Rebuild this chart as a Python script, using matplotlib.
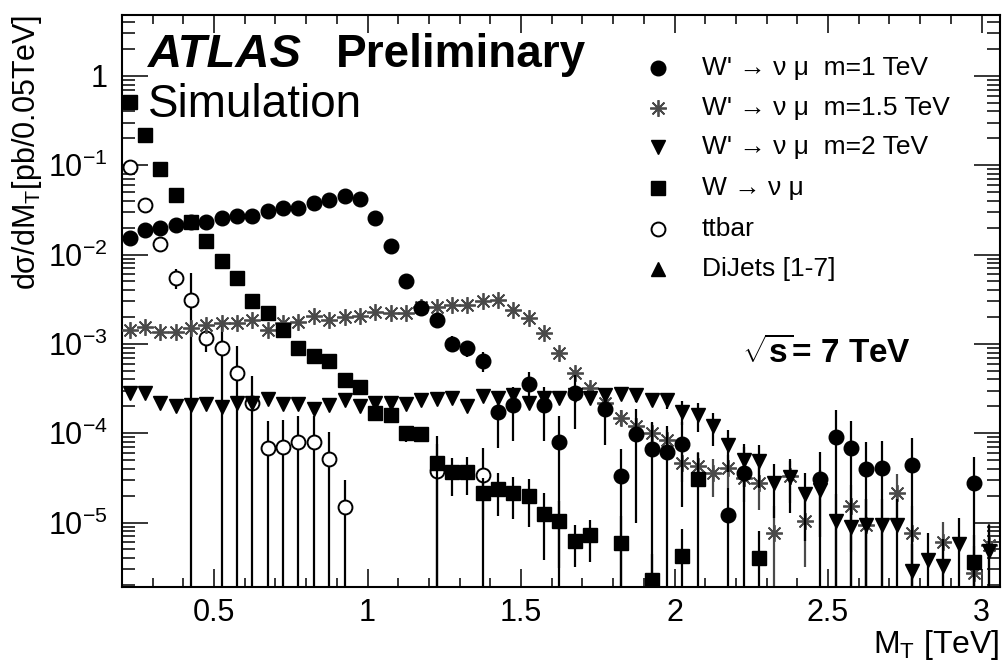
import numpy as np
import matplotlib.pyplot as plt

plt.rcParams['font.family'] = ['Liberation Sans', 'DejaVu Sans']
plt.rcParams['mathtext.fontset'] = 'custom'
plt.rcParams['mathtext.rm'] = 'Liberation Sans'
plt.rcParams['mathtext.it'] = 'Liberation Sans:italic'
plt.rcParams['mathtext.bf'] = 'Liberation Sans:bold'

nan = np.nan

# 50 GeV bins, centres from 0.225 to 3.025 TeV
mt = np.round(np.arange(0.225, 3.05, 0.05), 3)

# W' -> mu nu, m = 1 TeV
wp1 = [0.0152, 0.0187, 0.0196, 0.0212, 0.0229, 0.0229, 0.0254, 0.0268, 0.0268, 0.0305,
       0.0329, 0.0329, 0.0374, 0.0404, 0.0449, 0.0415, 0.0254, 0.0124, 0.0051, 0.00255,
       0.00183, 0.00101, 0.00089, 0.00065, 1.71e-4, 2.05e-4, 3.6e-4, 2.05e-4, 7.9e-5, 2.79e-4,
       nan, 1.85e-4, 3.3e-5, 9.9e-5, 6.6e-5, 6.1e-5, 7.5e-5, nan, nan, 1.23e-5,
       3.55e-5, nan, nan, nan, nan, 3.1e-5, 9.0e-5, 6.9e-5, 4.0e-5, 4.1e-5,
       nan, 4.45e-5, nan, nan, nan, 2.74e-5, nan]
wp1_rel = [0.03, 0.03, 0.03, 0.03, 0.03, 0.03, 0.03, 0.03, 0.03, 0.03,
           0.03, 0.03, 0.03, 0.03, 0.03, 0.03, 0.04, 0.05, 0.08, 0.1,
           0.12, 0.2, 0.2, 0.25, 0.6, 0.6, 0.35, 0.6, 1.0, 0.6,
           nan, 0.6, 1.0, 0.9, 1.0, 1.0, 0.8, nan, nan, 1.0,
           1.0, nan, nan, nan, nan, 1.0, 1.0, 1.0, 1.0, 1.0,
           nan, 1.0, nan, nan, nan, 1.0, nan]

# W' -> mu nu, m = 1.5 TeV
wp15 = [1.42e-3, 1.53e-3, 1.35e-3, 1.35e-3, 1.49e-3, 1.61e-3, 1.70e-3, 1.70e-3, 1.83e-3, 1.42e-3,
        1.70e-3, 1.74e-3, 2.03e-3, 1.83e-3, 1.98e-3, 2.03e-3, 2.25e-3, 2.20e-3, 2.20e-3, 2.57e-3,
        2.60e-3, 2.70e-3, 2.70e-3, 2.99e-3, 3.07e-3, 2.37e-3, 1.93e-3, 1.31e-3, 8.0e-4, 4.68e-4,
        3.18e-4, 2.2e-4, 1.5e-4, 1.2e-4, 1.0e-4, 8.3e-5, 4.7e-5, 4.35e-5, 3.55e-5, 4.1e-5,
        3.12e-5, 2.8e-5, 7.7e-6, 3.3e-5, 1.05e-5, nan, nan, 1.55e-5, 9.3e-6, nan,
        2.17e-5, 7.7e-6, nan, 6.0e-6, nan, 2.7e-6, 5.6e-6]
wp15_rel = [0.04, 0.04, 0.04, 0.04, 0.04, 0.04, 0.04, 0.04, 0.04, 0.04,
            0.04, 0.04, 0.04, 0.04, 0.04, 0.04, 0.04, 0.04, 0.04, 0.04,
            0.04, 0.04, 0.04, 0.04, 0.04, 0.04, 0.05, 0.05, 0.08, 0.1,
            0.12, 0.15, 0.2, 0.25, 0.3, 0.3, 0.4, 0.4, 0.45, 0.4,
            0.45, 0.5, 1.0, 0.5, 0.7, nan, nan, 0.7, 1.0, nan,
            0.6, 1.0, nan, 0.7, nan, 1.0, 0.7]

# W' -> mu nu, m = 2 TeV
wp2 = [2.79e-4, 2.85e-4, 2.2e-4, 2.0e-4, 2.05e-4, 2.15e-4, 1.95e-4, 2.2e-4, 2.2e-4, 2.4e-4,
       2.15e-4, 2.1e-4, 1.85e-4, 2.05e-4, 2.35e-4, 2.0e-4, 2.2e-4, 2.2e-4, 2.15e-4, 2.35e-4,
       2.4e-4, 2.45e-4, 2.0e-4, 2.6e-4, 2.5e-4, 2.7e-4, 2.2e-4, 2.45e-4, 2.45e-4, 2.7e-4,
       2.45e-4, 2.7e-4, 2.75e-4, 2.65e-4, 2.35e-4, 2.35e-4, 1.75e-4, 1.6e-4, 1.2e-4, 7.3e-5,
       5.0e-5, 4.9e-5, 2.8e-5, 3.2e-5, 2.1e-5, 2.3e-5, 1.05e-5, 9.0e-6, 9.3e-6, 9.3e-6,
       9.3e-6, 2.9e-6, 3.8e-6, 3.3e-6, 5.7e-6, nan, 4.75e-6]
wp2_rel = [0.05, 0.05, 0.05, 0.05, 0.05, 0.05, 0.05, 0.05, 0.05, 0.05,
           0.05, 0.05, 0.05, 0.05, 0.05, 0.05, 0.05, 0.05, 0.05, 0.05,
           0.06, 0.06, 0.08, 0.08, 0.08, 0.08, 0.08, 0.1, 0.1, 0.1,
           0.1, 0.12, 0.15, 0.15, 0.15, 0.2, 0.3, 0.35, 0.4, 0.5,
           0.5, 0.5, 0.6, 0.6, 0.7, 0.7, 1.0, 1.0, 1.0, 1.0,
           1.0, 1.0, 1.0, 1.0, 1.0, nan, 1.0]

# W -> mu nu
w_sm = [0.506, 0.216, 0.090, 0.046, 0.0234, 0.0141, 0.0084, 0.0054, 0.0030, 0.0022,
        1.45e-3, 8.9e-4, 7.4e-4, 6.4e-4, 3.9e-4, 3.3e-4, 1.67e-4, 1.62e-4, 9.95e-5, 9.9e-5,
        4.7e-5, 3.64e-5, 3.7e-5, 2.12e-5, 2.4e-5, 2.17e-5, 1.96e-5, 1.26e-5, 1.03e-5, 6.3e-6,
        7.2e-6, nan, 5.97e-6, nan, 2.25e-6, nan, 4.2e-6, 3.04e-5, nan, nan,
        nan, 4.0e-6, nan, nan, nan, nan, nan, nan, nan, nan,
        nan, nan, nan, nan, nan, 3.66e-6, nan]
w_sm_rel = [0.01, 0.01, 0.01, 0.02, 0.02, 0.03, 0.03, 0.04, 0.05, 0.06,
            0.08, 0.1, 0.1, 0.12, 0.12, 0.12, 0.15, 0.15, 0.2, 0.2,
            1.0, 0.45, 0.45, 0.5, 0.5, 0.5, 0.55, 0.7, 0.7, 0.5,
            0.5, nan, 1.0, nan, 1.0, nan, 1.0, 1.0, nan, nan,
            nan, 1.0, nan, nan, nan, nan, nan, nan, nan, nan,
            nan, nan, nan, nan, nan, 1.0, nan]

# ttbar
ttbar = [0.095, 0.0355, 0.0133, 0.0055, 0.0031, 1.15e-3, 9.1e-4, 4.7e-4, 2.16e-4, 6.8e-5,
         7.0e-5, 7.9e-5, 7.9e-5, 5.1e-5, 1.48e-5, nan, nan, nan, nan, nan,
         3.8e-5, nan, nan, 3.45e-5] + [nan] * 33
ttbar_rel = [0.05, 0.1, 0.15, 0.25, 1.0, 0.3, 1.0, 1.0, 1.0, 1.0,
             1.0, 1.0, 1.0, 1.0, 1.0, nan, nan, nan, nan, nan,
             1.0, nan, nan, 1.0] + [nan] * 33

# dijets [1-7]: no entries in this range
dijets = [nan] * 57
dijets_rel = [nan] * 57

labels = ["W' \u2192 \u03bd \u03bc  m=1 TeV", "W' \u2192 \u03bd \u03bc  m=1.5 TeV",
          "W' \u2192 \u03bd \u03bc  m=2 TeV", "W \u2192 \u03bd \u03bc", "ttbar", "DiJets [1-7]"]

YMIN, YMAX = 1.9e-6, 4.8
XMIN, XMAX = 0.2, 3.06

fig = plt.figure(figsize=(10.07, 6.63), dpi=100)
ax = fig.add_axes([0.1211, 0.1146, 0.8719, 0.8627])
ax.set_yscale('log')
ax.set_xlim(XMIN, XMAX)
ax.set_ylim(YMIN, YMAX)

styles = [
    (wp1, wp1_rel, dict(marker='o', color='black', ms=10.5), 4),
    (wp15, wp15_rel, dict(marker=(8, 2, 0), color='#4a4a4a', ms=12, mew=1.3), 3),
    (wp2, wp2_rel, dict(marker='v', color='black', ms=9.5), 5),
    (w_sm, w_sm_rel, dict(marker='s', color='black', ms=10), 6),
    (ttbar, ttbar_rel, dict(marker='o', color='black', mfc='white', ms=10, mew=1.4), 2),
    (dijets, dijets_rel, dict(marker='^', color='black', ms=9.5), 2),
]

handles = []
for vals, rel, kw, z in styles:
    v = np.array(vals)
    r = np.array(rel)
    ok = ~np.isnan(v)
    err = v[ok] * r[ok]
    # bins with a single weighted event have err >= value: bar runs off the bottom
    lo = np.where(err >= v[ok], YMIN * 1e-3, v[ok] - err)
    hi = v[ok] + err
    ax.vlines(mt[ok], lo, hi, color=kw['color'], lw=1.6, zorder=z - 0.5)
    h, = ax.plot(mt[ok], v[ok], ls='none', zorder=z, **kw)
    handles.append((h, kw))

# legend drawn by hand, ROOT style
leg_y = [0.9073, 0.8374, 0.7692, 0.6976, 0.6259, 0.5559]
for (h, kw), lab, yy in zip(handles, labels, leg_y):
    ax.plot([0.6105], [yy], ls='none', transform=ax.transAxes, clip_on=False, **kw)
    ax.text(0.6606, yy, lab, transform=ax.transAxes, fontsize=19, va='center', ha='left')

# axes styling
ax.set_xticks([0.5, 1.0, 1.5, 2.0, 2.5, 3.0], labels=['0.5', '1', '1.5', '2', '2.5', '3'])
ax.set_xticks(np.arange(0.3, 3.06, 0.1), minor=True)
ax.set_yticks([1, 1e-1, 1e-2, 1e-3, 1e-4, 1e-5],
              labels=['1', '$10^{-1}$', '$10^{-2}$', '$10^{-3}$', '$10^{-4}$', '$10^{-5}$'])
ax.yaxis.set_minor_locator(plt.matplotlib.ticker.LogLocator(base=10, subs=np.arange(2, 10)))
ax.yaxis.set_minor_formatter(plt.NullFormatter())
ax.tick_params(which='both', direction='in', top=True, right=True, labelsize=22, width=1.1)
ax.tick_params(axis='x', which='major', length=13, pad=8)
ax.tick_params(axis='x', which='minor', length=6.5)
ax.tick_params(axis='y', which='major', length=19, pad=10)
ax.tick_params(axis='y', which='minor', length=9.5)
for sp in ax.spines.values():
    sp.set_linewidth(1.5)

ax.set_xlabel(r'M$_{\mathrm{T}}$ [TeV]', fontsize=23, loc='right', labelpad=0)
ax.set_ylabel('d\u03c3/dM$_{\\mathrm{T}}$[pb/0.05TeV]', fontsize=22, loc='top', labelpad=3)

fig.text(0.147, 0.899, 'ATLAS', fontsize=34, fontweight='bold', style='italic', va='baseline')
fig.text(0.334, 0.899, 'Preliminary', fontsize=33, fontweight='bold', va='baseline')
fig.text(0.147, 0.8235, 'Simulation', fontsize=33, va='baseline')
fig.text(0.737, 0.4525, r'$\sqrt{\mathbf{s}}$= 7 TeV', fontsize=24, fontweight='bold', va='baseline')

fig.savefig('out.png', dpi=100)
